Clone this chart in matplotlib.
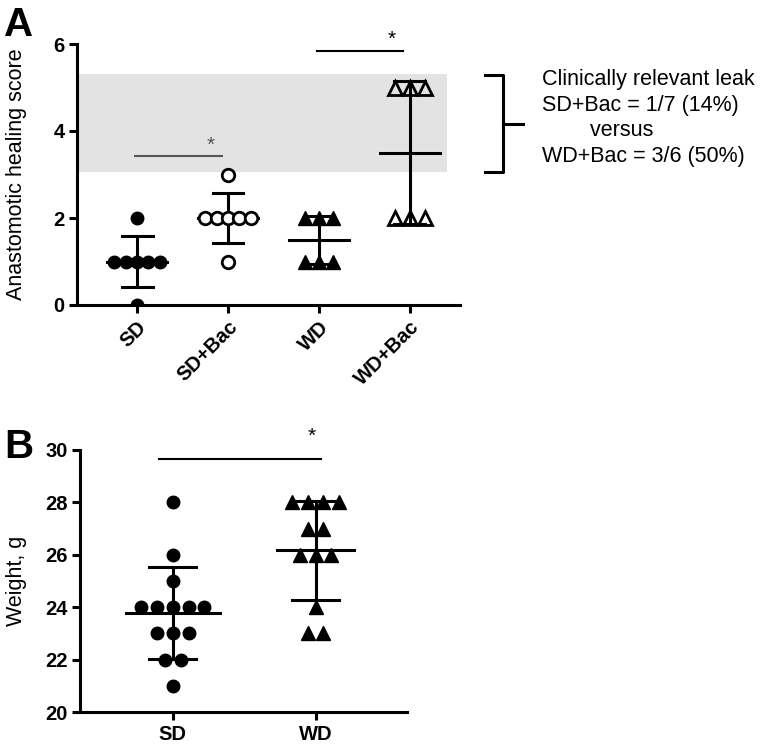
import numpy as np
import matplotlib.pyplot as plt

plt.rcParams['font.family'] = ['Liberation Sans', 'DejaVu Sans']

# Panel A: anastomotic healing score
groups_a = ['SD', 'SD+Bac', 'WD', 'WD+Bac']
sd_score = [0, 1, 1, 1, 1, 1, 2]
sdbac_score = [1, 2, 2, 2, 2, 2, 3]
wd_score = [1, 1, 1, 2, 2, 2]
wdbac_score = [2, 2, 2, 5, 5, 5]

# Panel B: weight
groups_b = ['SD', 'WD']
sd_weight = [21, 22, 22, 23, 23, 23, 24, 24, 24, 24, 24, 25, 26, 28]
wd_weight = [23, 23, 24, 26, 26, 26, 27, 27, 28, 28, 28, 28]

W, H = 760, 744
fig = plt.figure(figsize=(W / 100, H / 100), dpi=100)


def px_axes(x0, y0, x1, y1):
    return fig.add_axes([x0 / W, 1 - y1 / H, (x1 - x0) / W, (y1 - y0) / H])


def spread(vals, step):
    """x offsets for a simple scatter-dot layout"""
    vals = np.asarray(vals, float)
    offs = np.zeros(len(vals))
    for v in np.unique(vals):
        idx = np.where(vals == v)[0]
        n = len(idx)
        offs[idx] = (np.arange(n) - (n - 1) / 2) * step
    return offs


def style(ax):
    for s in ['top', 'right']:
        ax.spines[s].set_visible(False)
    for s in ['left', 'bottom']:
        ax.spines[s].set_linewidth(2.2)
    ax.tick_params(width=2.2, length=6, labelsize=14.5, direction='out', pad=3)
    for lab in ax.get_yticklabels() + ax.get_xticklabels():
        lab.set_fontweight('bold')


def meanbar(ax, x, vals, half_mean, half_cap):
    m = np.mean(vals)
    s = np.std(vals, ddof=1)
    ax.plot([x - half_mean, x + half_mean], [m, m], color='black', lw=2.2, zorder=4)
    ax.plot([x, x], [m - s, m + s], color='black', lw=2.2, zorder=4)
    for yy in (m - s, m + s):
        ax.plot([x - half_cap, x + half_cap], [yy, yy], color='black', lw=2.2, zorder=4)


# ---------- Panel A ----------
axA = px_axes(77, 44, 460, 305)
axA.set_xlim(-0.66, 3.55)
axA.set_ylim(0, 6)
axA.axhspan(3.05, 5.3, xmin=0.005, xmax=(447 - 77) / (460 - 77),
            color='#e3e3e3', zorder=0, lw=0)

data_a = [sd_score, sdbac_score, wd_score, wdbac_score]
markers = [dict(marker='o', mfc='black', mec='black', ms=9, mew=1),
           dict(marker='o', mfc='white', mec='black', ms=9, mew=2),
           dict(marker='^', mfc='black', mec='black', ms=9.5, mew=1),
           dict(marker='^', mfc='none', mec='black', ms=9.5, mew=2)]
steps = [0.125, 0.125, 0.158, 0.165]
for i, vals in enumerate(data_a):
    meanbar(axA, i, vals, 0.33, 0.17)
    x = i + spread(vals, steps[i])
    axA.plot(x, vals, ls='none', zorder=5, **markers[i])

axA.set_xticks(range(len(groups_a)))
axA.set_xticklabels(groups_a, rotation=45, ha='right', rotation_mode='anchor')
axA.set_yticks([0, 2, 4, 6])
axA.set_ylabel('Anastomotic healing score', fontsize=15.5)
axA.yaxis.set_label_coords((27 - 77) / 383, 0.5)
style(axA)

# significance bars
axA.plot([-0.02, 0.93], [3.42, 3.42], color='#555555', lw=1.5, clip_on=False)
axA.text(0.81, 3.45, '*', ha='center', va='bottom', fontsize=15, color='#555555')
axA.plot([1.98, 2.92], [5.84, 5.84], color='black', lw=1.5, clip_on=False)
axA.text(2.8, 5.88, '*', ha='center', va='bottom', fontsize=15)

fig.text(4 / W, 1 - 6 / H, 'A', fontsize=29, fontweight='bold', va='top')

# bracket + leak text
fig.add_artist(plt.Line2D([485 / W, 503 / W, 503 / W, 485 / W],
                          [1 - 75 / H, 1 - 75 / H, 1 - 172 / H, 1 - 172 / H],
                          color='black', lw=2.2))
fig.add_artist(plt.Line2D([503 / W, 523 / W], [1 - 124 / H, 1 - 124 / H],
                          color='black', lw=2.2))
leak_lines = ['Clinically relevant leak', 'SD+Bac = 1/7 (14%)',
              '        versus', 'WD+Bac = 3/6 (50%)']
for k, t in enumerate(leak_lines):
    fig.text(542 / W, 1 - (80 + 25.5 * k) / H, t, fontsize=15.5, va='center')

# ---------- Panel B ----------
axB = px_axes(80, 450, 407, 712)
axB.set_xlim(-0.65, 1.64)
axB.set_ylim(20, 30)

meanbar(axB, 0, sd_weight, 0.33, 0.165)
meanbar(axB, 1, wd_weight, 0.27, 0.165)
axB.plot(spread(sd_weight, 0.11), sd_weight, ls='none', marker='o', ms=9,
         color='black', zorder=5)
axB.plot(1 + spread(wd_weight, 0.108), wd_weight, ls='none', marker='^', ms=9.5,
         color='black', zorder=5)

axB.set_xticks(range(len(groups_b)))
axB.set_xticklabels(groups_b)
axB.set_yticks(range(20, 31, 2))
axB.set_ylabel('Weight, g', fontsize=15.5)
axB.yaxis.set_label_coords((27 - 80) / 327, 0.5)
style(axB)

axB.plot([-0.1, 1.04], [29.66, 29.66], color='black', lw=1.5, clip_on=False)
axB.text(0.97, 30.15, '*', ha='center', va='bottom', fontsize=15, clip_on=False)

fig.text(4 / W, 1 - 428 / H, 'B', fontsize=29, fontweight='bold', va='top')

fig.savefig('out.png', dpi=100)
